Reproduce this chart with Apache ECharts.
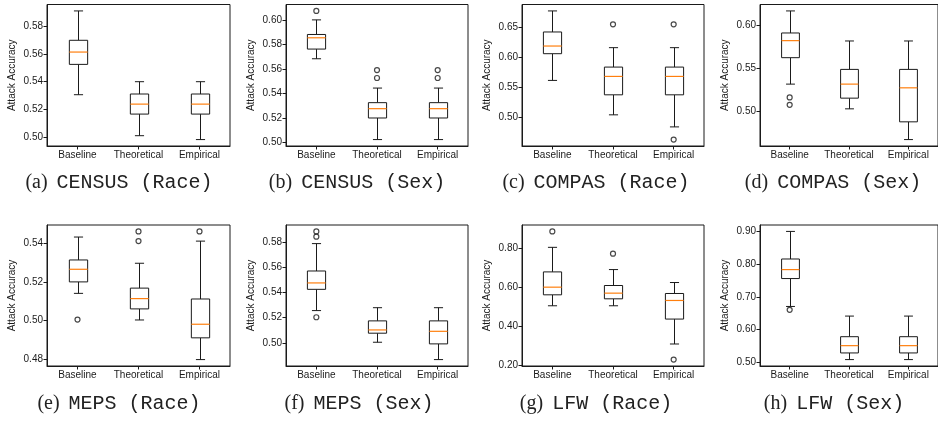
<!DOCTYPE html>
<html><head><meta charset="utf-8">
<script src="https://cdn.jsdelivr.net/npm/echarts@6/dist/echarts.min.js"></script>
<style>html,body{margin:0;padding:0;background:#fff}#c{width:938px;height:422px}</style>
</head><body><div id="c"></div>
<script>
// ---------- data ----------
const categories = ['Baseline', 'Theoretical', 'Empirical'];
// each box: [lowWhisker, q1, median, q3, highWhisker] for Baseline, Theoretical, Empirical
const censusRaceBoxes = [[0.5306,0.5525,0.5614,0.5699,0.5911],[0.5010,0.5166,0.5238,0.5311,0.5400],[0.4982,0.5166,0.5238,0.5311,0.5400]];
const censusRaceOutliers = [[],[],[]];
const censusRaceTicks = ['0.50','0.52','0.54','0.56','0.58'];

const censusSexBoxes = [[0.5683,0.5762,0.5854,0.5881,0.6000],[0.5024,0.5200,0.5276,0.5325,0.5444],[0.5024,0.5200,0.5276,0.5325,0.5444]];
const censusSexOutliers = [[0.6073],[0.5591,0.5526],[0.5591,0.5526]];
const censusSexTicks = ['0.50','0.52','0.54','0.56','0.58','0.60'];

const compasRaceBoxes = [[0.5614,0.6057,0.6184,0.6417,0.6766],[0.5043,0.5375,0.5680,0.5835,0.6157],[0.4843,0.5375,0.5680,0.5835,0.6157]];
const compasRaceOutliers = [[],[0.6544],[0.6544,0.4633]];
const compasRaceTicks = ['0.50','0.55','0.60','0.65'];

const compasSexBoxes = [[0.5317,0.5624,0.5822,0.5911,0.6167],[0.5030,0.5154,0.5317,0.5488,0.5818],[0.4673,0.4879,0.5274,0.5488,0.5818]];
const compasSexOutliers = [[0.5162,0.5077],[],[]];
const compasSexTicks = ['0.50','0.55','0.60'];

const mepsRaceBoxes = [[0.5141,0.5200,0.5265,0.5313,0.5431],[0.5004,0.5061,0.5114,0.5168,0.5296],[0.4800,0.4912,0.4982,0.5112,0.5410]];
const mepsRaceOutliers = [[0.5006],[0.5460,0.5410],[0.5460]];
const mepsRaceTicks = ['0.48','0.50','0.52','0.54'];

const mepsSexBoxes = [[0.5257,0.5426,0.5477,0.5572,0.5790],[0.5005,0.5077,0.5103,0.5175,0.5280],[0.4867,0.4992,0.5092,0.5175,0.5280]];
const mepsSexOutliers = [[0.5887,0.5845,0.5204],[],[]];
const mepsSexTicks = ['0.50','0.52','0.54','0.56','0.58'];

const lfwRaceBoxes = [[0.5042,0.5606,0.6000,0.6786,0.8050],[0.5042,0.5400,0.5692,0.6085,0.6906],[0.3075,0.4358,0.5315,0.5674,0.6239]];
const lfwRaceOutliers = [[0.8870],[0.7726],[0.2272]];
const lfwRaceTicks = ['0.20','0.40','0.60','0.80'];

const lfwSexBoxes = [[0.6706,0.7559,0.7833,0.8157,0.9000],[0.5082,0.5285,0.5508,0.5782,0.6412],[0.5082,0.5285,0.5508,0.5782,0.6412]];
const lfwSexOutliers = [[0.6604],[],[]];
const lfwSexTicks = ['0.50','0.60','0.70','0.80','0.90'];

const captionLetters = ['(a)','(b)','(c)','(d)','(e)','(f)','(g)','(h)'];
const captionNames = ['CENSUS (Race)','CENSUS (Sex)','COMPAS (Race)','COMPAS (Sex)','MEPS (Race)','MEPS (Sex)','LFW (Race)','LFW (Sex)'];
const yAxisTitle = 'Attack Accuracy';

const panels = [
  [censusRaceBoxes, censusRaceOutliers, censusRaceTicks],
  [censusSexBoxes, censusSexOutliers, censusSexTicks],
  [compasRaceBoxes, compasRaceOutliers, compasRaceTicks],
  [compasSexBoxes, compasSexOutliers, compasSexTicks],
  [mepsRaceBoxes, mepsRaceOutliers, mepsRaceTicks],
  [mepsSexBoxes, mepsSexOutliers, mepsSexTicks],
  [lfwRaceBoxes, lfwRaceOutliers, lfwRaceTicks],
  [lfwSexBoxes, lfwSexOutliers, lfwSexTicks]
];

// ---------- layout ----------
const gridLayout = [
  {left:47, top:4.5, width:183, height:141.5},
  {left:286, top:4.5, width:182, height:141.5},
  {left:522, top:4.5, width:182, height:141.5},
  {left:760, top:4.5, width:183, height:141.5},
  {left:47, top:225, width:183, height:141},
  {left:286, top:225, width:182, height:141},
  {left:522, top:225, width:182, height:141},
  {left:760, top:225, width:183, height:141}
];
const captionPos = [[119,183],[357,183],[596,183],[833,183],[119,404],[359,404],[596,404],[834,404]];

const sans = 'Liberation Sans, Arial, Helvetica, sans-serif';
const ink = '#1a1a1a';

function renderBox(params, api) {
  const x = api.value(0);
  const lo = api.coord([x, api.value(1)]);
  const q1 = api.coord([x, api.value(2)]);
  const md = api.coord([x, api.value(3)]);
  const q3 = api.coord([x, api.value(4)]);
  const hi = api.coord([x, api.value(5)]);
  const band = api.size([1, 0])[0];
  const w = band * 0.3, cw = band * 0.15;
  const cx = Math.round(lo[0]) + 0.5;
  const ls = {stroke: ink, lineWidth: 1, fill: null};
  return {type: 'group', children: [
    {type:'line', shape:{x1:cx, y1:lo[1], x2:cx, y2:q1[1]}, style:ls},
    {type:'line', shape:{x1:cx, y1:q3[1], x2:cx, y2:hi[1]}, style:ls},
    {type:'line', shape:{x1:cx-cw/2, y1:lo[1], x2:cx+cw/2, y2:lo[1]}, style:ls},
    {type:'line', shape:{x1:cx-cw/2, y1:hi[1], x2:cx+cw/2, y2:hi[1]}, style:ls},
    {type:'rect', shape:{x:cx-w/2, y:q3[1], width:w, height:q1[1]-q3[1]}, style:{stroke:ink, lineWidth:1, fill:'#fff'}},
    {type:'line', shape:{x1:cx-w/2, y1:md[1], x2:cx+w/2, y2:md[1]}, style:{stroke:'#ff7f0e', lineWidth:1.2}}
  ]};
}

const grid = [], xAxis = [], yAxis = [], series = [], graphic = [];
panels.forEach((p, i) => {
  const [boxes, outs, ticks] = p;
  let all = [];
  boxes.forEach(b => all = all.concat(b));
  outs.forEach(o => all = all.concat(o));
  const dmin = Math.min(...all), dmax = Math.max(...all);
  const pad = (dmax - dmin) * 0.05;
  const tickVals = ticks.map(Number);
  grid.push(Object.assign({show:true, borderColor:ink, borderWidth:1, backgroundColor:'transparent'}, gridLayout[i]));
  xAxis.push({
    type:'category', gridIndex:i, data:categories, boundaryGap:true,
    axisLine:{show:true, lineStyle:{color:ink, width:1}},
    axisTick:{show:true, alignWithLabel:true, length:3.5, lineStyle:{color:ink}},
    axisLabel:{fontSize:10, color:ink, margin:4, fontFamily:sans, interval:0},
    splitLine:{show:false}
  });
  yAxis.push({
    type:'value', gridIndex:i, min:dmin - pad, max:dmax + pad,
    axisLine:{show:true, lineStyle:{color:ink, width:1}},
    axisTick:{show:true, length:3.5, customValues:tickVals, lineStyle:{color:ink}},
    axisLabel:{customValues:tickVals, formatter:v => v.toFixed(2), fontSize:10, color:ink, margin:4, fontFamily:sans},
    splitLine:{show:false},
    name:yAxisTitle, nameLocation:'middle', nameGap:30,
    nameTextStyle:{fontSize:10, color:ink, fontFamily:sans}
  });
  series.push({
    type:'custom', xAxisIndex:i, yAxisIndex:i, renderItem:renderBox,
    encode:{x:0, y:[1,2,3,4,5]},
    data: boxes.map((b, k) => [k].concat(b)), silent:true, z:2
  });
  const od = [];
  outs.forEach((o, k) => o.forEach(v => od.push([k, v])));
  series.push({
    type:'scatter', xAxisIndex:i, yAxisIndex:i, data:od, symbol:'circle', symbolSize:5,
    itemStyle:{color:'rgba(0,0,0,0)', borderColor:ink, borderWidth:1.2}, silent:true, z:3
  });
  graphic.push({
    type:'text', x:captionPos[i][0], y:captionPos[i][1],
    style:{
      text:'{l|' + captionLetters[i] + '}{m|' + captionNames[i] + '}',
      align:'center', verticalAlign:'middle',
      rich:{
        l:{fontFamily:'Liberation Serif, DejaVu Serif, serif', fontSize:20, fill:'#222', padding:[0,9,0,0]},
        m:{fontFamily:'Liberation Mono, DejaVu Sans Mono, monospace', fontSize:20, fill:'#222'}
      }
    }
  });
});

const chart = echarts.init(document.getElementById('c'), null, {renderer:'canvas'});
chart.setOption({animation:false, backgroundColor:'#fff', grid, xAxis, yAxis, series, graphic});
</script>
</body></html>
